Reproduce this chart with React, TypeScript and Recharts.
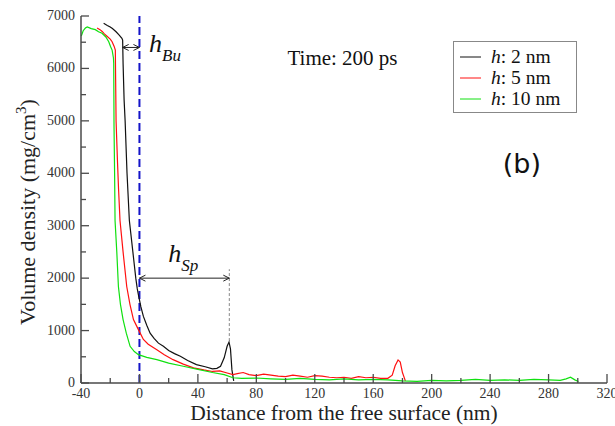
import {
  LineChart,
  Line,
  XAxis,
  YAxis,
  Legend,
  ReferenceLine,
  ReferenceDot,
} from "recharts";

// density profiles, x in nm, y in mg/cm3
const h2Data = [
  { x: -24.5, y: 6860 }, { x: -22, y: 6820 }, { x: -20, y: 6790 }, { x: -18.5, y: 6760 },
  { x: -16, y: 6700 }, { x: -14, y: 6640 }, { x: -12, y: 6575 }, { x: -11.5, y: 6540 },
  { x: -11.2, y: 6100 }, { x: -10.5, y: 5400 }, { x: -9.8, y: 5000 }, { x: -8.5, y: 4000 },
  { x: -6.9, y: 3100 }, { x: -4.5, y: 2500 }, { x: -2.5, y: 2000 }, { x: -1.5, y: 1800 },
  { x: -0.5, y: 1650 }, { x: 1, y: 1450 }, { x: 2.7, y: 1270 }, { x: 5, y: 1100 },
  { x: 7.3, y: 950 }, { x: 10, y: 850 }, { x: 13, y: 760 }, { x: 16.4, y: 700 },
  { x: 20, y: 620 }, { x: 24, y: 560 }, { x: 28, y: 510 }, { x: 33, y: 430 },
  { x: 39, y: 350 }, { x: 45, y: 310 }, { x: 50, y: 270 }, { x: 53, y: 280 },
  { x: 55.5, y: 320 }, { x: 58, y: 480 }, { x: 60, y: 700 }, { x: 61.3, y: 780 },
  { x: 62.3, y: 650 }, { x: 63.3, y: 250 }, { x: 64.5, y: 40 },
];

const h5Data = [
  { x: -29, y: 6770 }, { x: -27, y: 6740 }, { x: -25.5, y: 6705 }, { x: -24, y: 6660 },
  { x: -22, y: 6610 }, { x: -20, y: 6560 }, { x: -18.7, y: 6510 }, { x: -17.3, y: 6420 },
  { x: -16.5, y: 6350 }, { x: -16.3, y: 5800 }, { x: -16, y: 5000 }, { x: -15, y: 4200 },
  { x: -14.3, y: 3700 }, { x: -13.3, y: 3100 }, { x: -11.2, y: 2500 }, { x: -8.7, y: 1840 },
  { x: -6.5, y: 1500 }, { x: -4.1, y: 1210 }, { x: -1.8, y: 1080 }, { x: 0, y: 980 },
  { x: 2.7, y: 830 }, { x: 6, y: 740 }, { x: 11.9, y: 635 }, { x: 17, y: 540 },
  { x: 23, y: 445 }, { x: 30, y: 360 }, { x: 37, y: 290 }, { x: 44, y: 250 },
  { x: 50, y: 220 }, { x: 55, y: 230 }, { x: 60, y: 190 }, { x: 64, y: 160 },
  { x: 67, y: 180 }, { x: 71, y: 200 }, { x: 75, y: 160 }, { x: 80, y: 140 },
  { x: 85, y: 170 }, { x: 90, y: 150 }, { x: 95, y: 130 }, { x: 100, y: 120 },
  { x: 105, y: 150 }, { x: 110, y: 130 }, { x: 115, y: 110 }, { x: 120, y: 140 },
  { x: 125, y: 130 }, { x: 130, y: 110 }, { x: 135, y: 100 }, { x: 140, y: 110 },
  { x: 145, y: 90 }, { x: 150, y: 120 }, { x: 155, y: 100 }, { x: 160, y: 110 },
  { x: 165, y: 90 }, { x: 170, y: 90 }, { x: 173, y: 150 }, { x: 175, y: 330 },
  { x: 177, y: 440 }, { x: 178.5, y: 400 }, { x: 180, y: 200 }, { x: 182, y: 40 },
];

const h10Data = [
  { x: -39.8, y: 6620 }, { x: -38.5, y: 6720 }, { x: -37, y: 6770 }, { x: -35.7, y: 6790 },
  { x: -33, y: 6760 }, { x: -30.2, y: 6740 }, { x: -28, y: 6700 }, { x: -25.6, y: 6670 },
  { x: -23, y: 6600 }, { x: -21, y: 6510 }, { x: -19.8, y: 6420 }, { x: -18.7, y: 6350 },
  { x: -17.8, y: 6200 }, { x: -17.6, y: 6100 }, { x: -17.5, y: 5500 }, { x: -17.4, y: 4900 },
  { x: -17, y: 4000 }, { x: -16.7, y: 3100 }, { x: -15.5, y: 2500 }, { x: -14.4, y: 1840 },
  { x: -13, y: 1500 }, { x: -11.2, y: 1210 }, { x: -9, y: 950 }, { x: -6.4, y: 700 },
  { x: -3.5, y: 600 }, { x: -0.7, y: 540 }, { x: 5, y: 490 }, { x: 11.9, y: 445 },
  { x: 20, y: 380 }, { x: 30, y: 320 }, { x: 40, y: 260 }, { x: 50, y: 200 },
  { x: 58, y: 160 }, { x: 64, y: 100 }, { x: 70, y: 90 }, { x: 80, y: 95 },
  { x: 90, y: 80 }, { x: 100, y: 70 }, { x: 110, y: 90 }, { x: 120, y: 70 },
  { x: 130, y: 60 }, { x: 140, y: 80 }, { x: 150, y: 60 }, { x: 160, y: 70 },
  { x: 170, y: 60 }, { x: 180, y: 40 }, { x: 190, y: 30 }, { x: 200, y: 50 },
  { x: 210, y: 40 }, { x: 220, y: 50 }, { x: 230, y: 70 }, { x: 240, y: 50 },
  { x: 250, y: 60 }, { x: 260, y: 50 }, { x: 270, y: 70 }, { x: 280, y: 60 },
  { x: 288, y: 50 }, { x: 292, y: 80 }, { x: 295, y: 110 }, { x: 298, y: 60 },
  { x: 300.5, y: 30 },
];

const legendOrder = ["2 nm", "5 nm", "10 nm"];
const xTicks = [-40, -20, 0, 20, 40, 60, 80, 100, 120, 140, 160, 180, 200, 220, 240, 260, 280, 300, 320];
const yTicks = [0, 500, 1000, 1500, 2000, 2500, 3000, 3500, 4000, 4500, 5000, 5500, 6000, 6500, 7000];

const serif = "'Liberation Serif', 'Times New Roman', serif";
const axisColor = "#4a4a4a";

const BottomTick = (props: any) => {
  const { x, y, payload } = props;
  const major = payload.value % 40 === 0;
  return (
    <g>
      <line x1={x} y1={y} x2={x} y2={y - (major ? 9 : 5)} stroke={axisColor} strokeWidth={1.3} />
      {major && (
        <text x={x} y={y + 15} textAnchor="middle" fontFamily={serif} fontSize={14} fill="#333">
          {payload.value}
        </text>
      )}
    </g>
  );
};

const TopTick = (props: any) => {
  const { x, y, payload } = props;
  const major = payload.value % 40 === 0;
  return <line x1={x} y1={y} x2={x} y2={y + (major ? 9 : 5)} stroke={axisColor} strokeWidth={1.3} />;
};

const LeftTick = (props: any) => {
  const { x, y, payload } = props;
  const major = payload.value % 1000 === 0;
  return (
    <g>
      <line x1={x} y1={y} x2={x + (major ? 8 : 5)} y2={y} stroke={axisColor} strokeWidth={1.3} />
      {major && (
        <text x={x - 6} y={y + 4} textAnchor="end" fontFamily={serif} fontSize={14} fill="#333">
          {payload.value}
        </text>
      )}
    </g>
  );
};

const RightTick = (props: any) => {
  const { x, y, payload } = props;
  const major = payload.value % 1000 === 0;
  return <line x1={x} y1={y} x2={x - (major ? 8 : 5)} y2={y} stroke={axisColor} strokeWidth={1.3} />;
};

// horizontal line with open arrow heads on both ends
const DoubleArrow = (props: any) => {
  const { x1, y1, x2, y2 } = props;
  const a = 6;
  const b = 3;
  return (
    <g stroke="#222" strokeWidth={1} fill="none">
      <line x1={x1} y1={y1} x2={x2} y2={y2} />
      <polyline points={`${x1 + a},${y1 - b} ${x1},${y1} ${x1 + a},${y1 + b}`} />
      <polyline points={`${x2 - a},${y2 - b} ${x2},${y2} ${x2 - a},${y2 + b}`} />
    </g>
  );
};

const hLabel = (sub: string) => (props: any) => (
  <text x={props.cx} y={props.cy} fontFamily={serif} fontStyle="italic" fill="#111">
    <tspan fontSize={26}>h</tspan>
    <tspan fontSize={17} dy={9}>{sub}</tspan>
  </text>
);

const TimeText = (props: any) => (
  <text x={props.cx} y={props.cy} fontFamily={serif} fontSize={21} fill="#111">
    Time: 200 ps
  </text>
);

const PanelText = (props: any) => (
  <text x={props.cx} y={props.cy} fontFamily="'DejaVu Sans', sans-serif" fontSize={27} fill="#111">
    (b)
  </text>
);

const YLabel = () => (
  <text
    x={35}
    y={212}
    transform="rotate(-90, 35, 212)"
    textAnchor="middle"
    fontFamily={serif}
    fontSize={22}
    fill="#222"
  >
    Volume density (mg/cm
    <tspan fontSize={15} dy={-9}>3</tspan>
    <tspan dy={9}>)</tspan>
  </text>
);

const XLabel = () => (
  <text x={344} y={420} textAnchor="middle" fontFamily={serif} fontSize={21.5} fill="#222">
    Distance from the free surface (nm)
  </text>
);

const LegendBox = (props: any) => {
  const { payload } = props;
  return (
    <svg width={124} height={72}>
      <rect x={0.5} y={0.5} width={123} height={71} fill="#fff" stroke="#888" strokeWidth={1} />
      {(payload || []).map((entry: any, i: number) => {
        const cy = 16 + i * 21;
        return (
          <g key={`leg-${i}`}>
            <line x1={7} y1={cy} x2={28} y2={cy} stroke={entry.color} strokeWidth={1} />
            <text x={38} y={cy + 6} fontFamily={serif} fontSize={19.5} fill="#111">
              <tspan fontStyle="italic">h</tspan>: {entry.value}
            </text>
          </g>
        );
      })}
    </svg>
  );
};

export default function App() {
  return (
    <div style={{ position: "absolute", left: 0, top: 0, width: 615, height: 426, background: "#fff" }}>
      <LineChart width={615} height={426} margin={{ top: 16, right: 8, bottom: 0, left: 0 }}>
        <XAxis
          xAxisId="b"
          type="number"
          dataKey="x"
          domain={[-40, 320]}
          ticks={xTicks}
          interval={0}
          height={43}
          tickSize={0}
          tickMargin={0}
          tickLine={false}
          tick={<BottomTick />}
          axisLine={{ stroke: axisColor, strokeWidth: 1.5 }}
          label={<XLabel />}
        />
        <XAxis
          xAxisId="t"
          orientation="top"
          type="number"
          dataKey="x"
          domain={[-40, 320]}
          ticks={xTicks}
          interval={0}
          height={0}
          tickSize={0}
          tickMargin={0}
          tickLine={false}
          tick={<TopTick />}
          axisLine={{ stroke: axisColor, strokeWidth: 1.5 }}
        />
        <YAxis
          yAxisId="l"
          type="number"
          domain={[0, 7000]}
          ticks={yTicks}
          interval={0}
          width={81}
          tickSize={0}
          tickMargin={0}
          tickLine={false}
          tick={<LeftTick />}
          axisLine={{ stroke: axisColor, strokeWidth: 1.5 }}
          label={<YLabel />}
        />
        <YAxis
          yAxisId="r"
          orientation="right"
          type="number"
          domain={[0, 7000]}
          ticks={yTicks}
          interval={0}
          width={0}
          tickSize={0}
          tickMargin={0}
          tickLine={false}
          tick={<RightTick />}
          axisLine={{ stroke: axisColor, strokeWidth: 1.5 }}
        />

        <ReferenceLine
          xAxisId="b"
          yAxisId="l"
          x={0}
          stroke="#1414c8"
          strokeWidth={2}
          strokeDasharray="8 4"
        />
        <ReferenceLine
          xAxisId="b"
          yAxisId="l"
          segment={[{ x: 61.5, y: 800 }, { x: 61.5, y: 2170 }]}
          stroke="#888"
          strokeWidth={1}
          strokeDasharray="3 2"
        />

        <Line
          xAxisId="b"
          yAxisId="l"
          data={h2Data}
          dataKey="y"
          name="2 nm"
          type="linear"
          stroke="#111"
          strokeWidth={1.2}
          dot={false}
          isAnimationActive={false}
        />
        <Line
          xAxisId="b"
          yAxisId="l"
          data={h5Data}
          dataKey="y"
          name="5 nm"
          type="linear"
          stroke="#ff1010"
          strokeWidth={1.2}
          dot={false}
          isAnimationActive={false}
        />
        <Line
          xAxisId="b"
          yAxisId="l"
          data={h10Data}
          dataKey="y"
          name="10 nm"
          type="linear"
          stroke="#10e010"
          strokeWidth={1.2}
          dot={false}
          isAnimationActive={false}
        />

        <ReferenceLine
          xAxisId="b"
          yAxisId="l"
          segment={[{ x: -11.5, y: 6400 }, { x: 0, y: 6400 }]}
          shape={DoubleArrow}
        />
        <ReferenceLine
          xAxisId="b"
          yAxisId="l"
          segment={[{ x: 0, y: 2000 }, { x: 61.5, y: 2000 }]}
          shape={DoubleArrow}
        />

        <ReferenceDot xAxisId="b" yAxisId="l" x={6.6} y={6310} r={0} shape={hLabel("Bu")} />
        <ReferenceDot xAxisId="b" yAxisId="l" x={19.7} y={2310} r={0} shape={hLabel("Sp")} />
        <ReferenceDot xAxisId="b" yAxisId="l" x={101.3} y={6060} r={0} shape={TimeText} />
        <ReferenceDot xAxisId="b" yAxisId="l" x={248.7} y={4010} r={0} shape={PanelText} />

        <Legend
          layout="vertical"
          align="center"
          verticalAlign="middle"
          itemSorter={(item: any) => legendOrder.indexOf(item.value)}
          content={<LegendBox />}
          wrapperStyle={{ left: 453, top: 41, width: 124, height: 72 }}
        />
      </LineChart>
    </div>
  );
}
